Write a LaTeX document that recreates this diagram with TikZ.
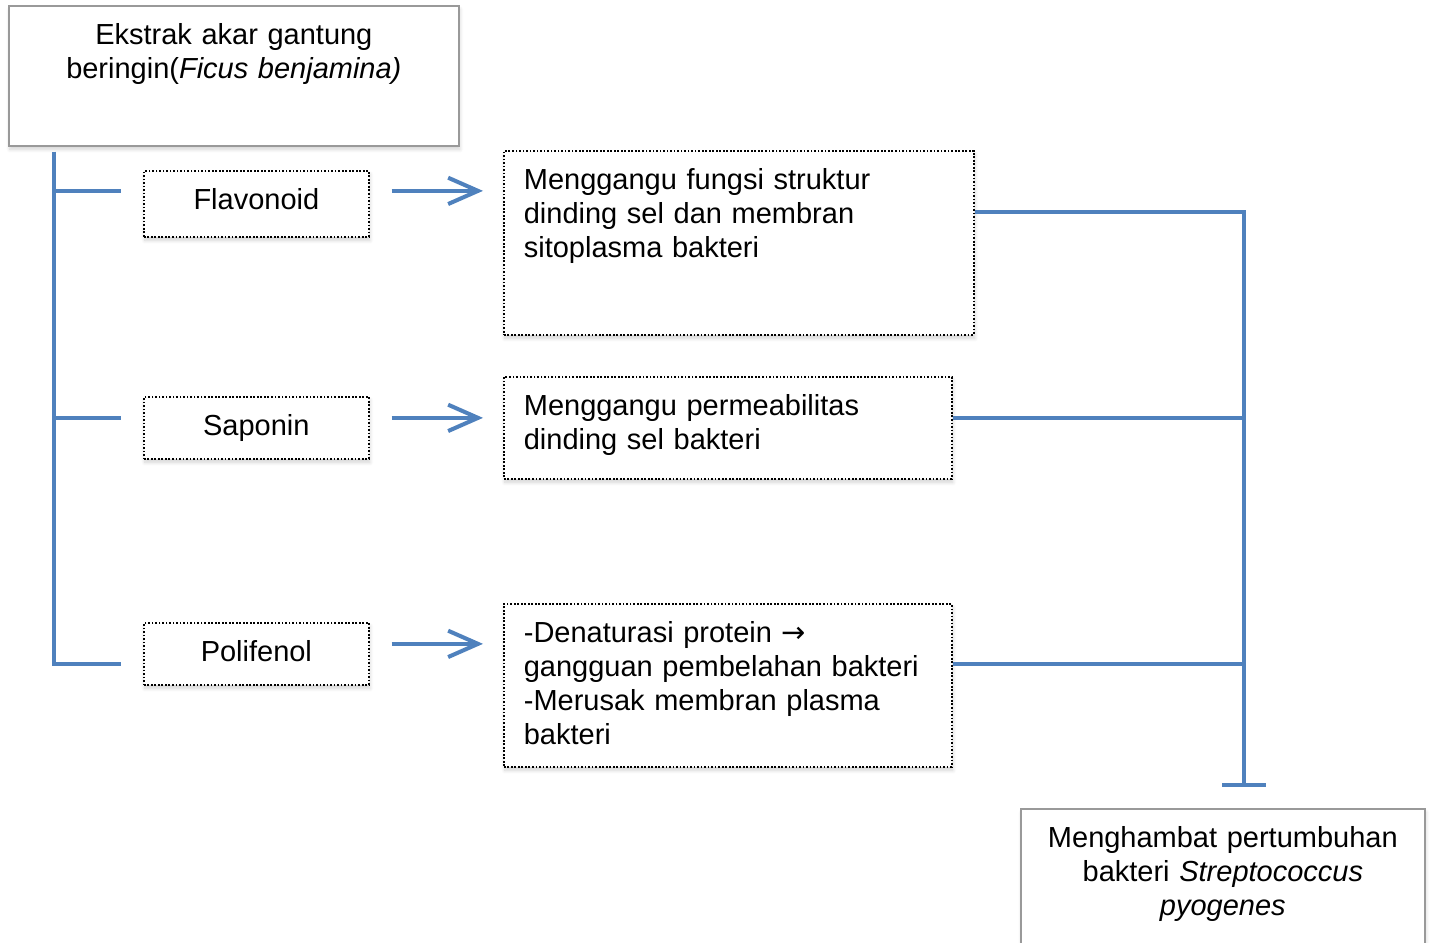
\documentclass[tikz,border=0pt]{standalone}
\usepackage{fontspec}
\setmainfont{Liberation Sans}
\newfontfamily\arrowfont{DejaVu Sans}
\usepackage{tikz}
\usetikzlibrary{calc,positioning,arrows.meta,shadows.blur}
\definecolor{lineblue}{RGB}{79,129,189}
\tikzset{
    font={\fontsize{16.5pt}{19.35pt}\selectfont},
    basebox/.style={
        rectangle,
        anchor=north west,
        fill=white,
        inner xsep=0.4cm,
        inner ysep=0.3cm,
        text height=0.48cm,
        blur shadow={shadow xshift=0.6pt, shadow yshift=-2pt,
            shadow blur steps=8, shadow opacity=18}
    },
    solidbox/.style={basebox, draw=black!40, line width=1pt},
    dotbox/.style={basebox, draw=black, line width=1pt,
        dash pattern=on 1pt off 1pt},
    link/.style={draw=lineblue, line width=2.3pt},
}

\begin{document}
\begin{tikzpicture}
[
    x=0.02cm, y=-0.02cm,
    arrowlink/.style={link, -{Straight Barb[length=17pt, width=15pt]},
        shorten <=0.44cm, shorten >=0.4cm},
]
\useasboundingbox (0,0) rectangle (1431,943);
\clip (0,0) rectangle (1431,943);
% boxes
\node[solidbox, text width=8.2cm, align=center, text depth=1.72cm] (ekstrak) at (8,5)
    {Ekstrak akar gantung\\beringin(\textit{Ficus benjamina)}};
\node[dotbox, text width=3.7cm, align=center, text depth=0.24cm] (flav) at (143,170) {Flavonoid};
\node[dotbox, text width=3.7cm, align=center, text depth=0.16cm] (sap) at (143,396) {Saponin};
\node[dotbox, text width=3.7cm, align=center, text depth=0.16cm] (pol) at (143,622) {Polifenol};
\node[dotbox, text width=8.6cm, align=left, text depth=2.6cm] (eff1) at (503,150)
    {Menggangu fungsi struktur\\dinding sel dan membran\\sitoplasma bakteri};
\node[dotbox, text width=8.16cm, align=left, text depth=0.96cm] (eff2) at (503,376)
    {Menggangu permeabilitas\\dinding sel bakteri};
\node[dotbox, text width=8.16cm, align=left, text depth=2.18cm] (eff3) at (503,603)
    {-Denaturasi protein {\arrowfont →}\\gangguan pembelahan bakteri\\-Merusak membran plasma\\bakteri};
\node[solidbox, text width=7.28cm, align=center, text depth=2.5cm] (result) at (1020,808)
    {Menghambat pertumbuhan\\bakteri \textit{Streptococcus}\\\textit{pyogenes}};
% left tree
\coordinate (trunktop) at ($(ekstrak.south west)+(46,5)$);
\coordinate (b1) at ($(flav.west)+(0,-13)$);
\coordinate (b2) at ($(sap.west)+(0,-10)$);
\coordinate (b3) at ($(pol.west)+(0,10)$);
\draw[link, shorten >=0.44cm] (trunktop) |- (b3);
\draw[link, shorten >=0.44cm] (trunktop |- b1) -- (b1);
\draw[link, shorten >=0.44cm] (trunktop |- b2) -- (b2);
% arrows
\draw[arrowlink] ($(flav.east)+(0,-13)$) -- ($(eff1.west |- flav.east)+(0,-13)$);
\draw[arrowlink] ($(sap.east)+(0,-10)$) -- ($(eff2.west |- sap.east)+(0,-10)$);
\draw[arrowlink] ($(pol.east)+(0,-10)$) -- ($(eff3.west |- pol.east)+(0,-10)$);
% right bus
\coordinate (busend) at ($(result.north)+(21,-21)$);
\draw[link, -{Bar[width=25pt]}] ($(eff1.east)+(0,-31)$) -| (busend);
\draw[link] ($(eff2.east)+(0,-10)$) -| (busend);
\draw[link] ($(eff3.east)+(0,-21)$) -| (busend);
\end{tikzpicture}
\end{document}
